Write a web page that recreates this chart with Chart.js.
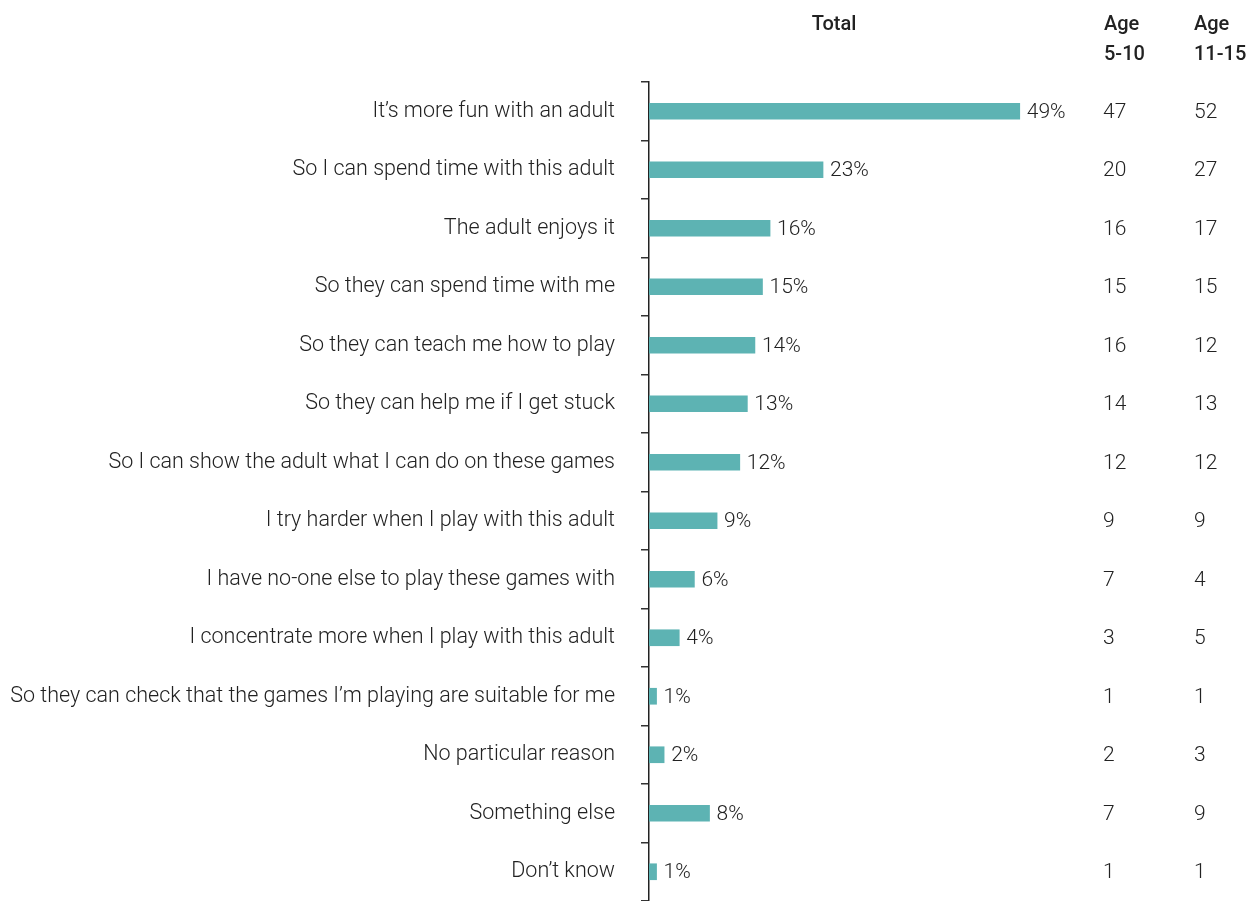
<!DOCTYPE html>
<html><head><meta charset="utf-8">
<script src="https://cdn.jsdelivr.net/npm/chart.js@4/dist/chart.umd.min.js"></script>
<style>html,body{margin:0;padding:0;background:#fff}#wrap{width:1251px;height:901px;position:relative}</style>
</head><body><div id="wrap"><canvas id="c" width="1251" height="901"></canvas></div>
<script>
const categories = ["It\u2019s more fun with an adult","So I can spend time with this adult","The adult enjoys it","So they can spend time with me","So they can teach me how to play","So they can help me if I get stuck","So I can show the adult what I can do on these games","I try harder when I play with this adult","I have no-one else to play these games with","I concentrate more when I play with this adult","So they can check that the games I\u2019m playing are suitable for me","No particular reason","Something else","Don\u2019t know"];
const totals = [49,23,16,15,14,13,12,9,6,4,1,2,8,1];
const age5to10 = [47,20,16,15,16,14,12,9,7,3,1,2,7,1];
const age11to15 = [52,27,17,15,12,13,12,9,4,5,1,3,9,1];
const headers = ["Total", ["Age","5-10"], ["Age","11-15"]];

const FONT = "Roboto";
const TXT = "#222";

const extras = {
  id: "extras",
  afterDatasetsDraw(chart) {
    const ctx = chart.ctx;
    const meta = chart.getDatasetMeta(0);
    const ys = chart.scales.y;
    ctx.save();
    ctx.fillStyle = TXT;
    ctx.font = "300 21px " + FONT;
    ctx.textBaseline = "middle";
    ctx.textAlign = "left";
    meta.data.forEach((bar, i) => {
      ctx.fillText(totals[i] + "%", bar.x + 7, bar.y + 1);
      const y = ys.getPixelForValue(i) + 1;
      ctx.fillText(String(age5to10[i]), 1103, y);
      ctx.fillText(String(age11to15[i]), 1194, y);
    });
    ctx.font = "500 20px " + FONT;
    ctx.textBaseline = "middle";
    ctx.textAlign = "center";
    ctx.fillText(headers[0], 834, 25);
    ctx.textAlign = "left";
    ctx.fillText(headers[1][0], 1104, 25);
    ctx.fillText(headers[1][1], 1104, 55);
    ctx.fillText(headers[2][0], 1194, 25);
    ctx.fillText(headers[2][1], 1194, 55);
    ctx.restore();
  }
};

new Chart(document.getElementById("c"), {
  type: "bar",
  data: {
    labels: categories,
    datasets: [{
      data: totals,
      backgroundColor: "#5db3b3",
      barThickness: 16,
      borderWidth: 0
    }]
  },
  options: {
    indexAxis: "y",
    responsive: false,
    animation: false,
    layout: { padding: { top: 82, right: 148, bottom: 0, left: 0 } },
    plugins: { legend: { display: false }, tooltip: { enabled: false } },
    scales: {
      x: { display: false, min: 0, max: 60 },
      y: {
        offset: true,
        afterFit: (s) => { s.width = 649; s.paddingTop = 0; s.paddingBottom = 0; },
        grid: { offset: true, drawOnChartArea: false, drawTicks: true, tickLength: 8, color: "#333", lineWidth: 1.5 },
        border: { display: true, color: "#222", width: 1.5 },
        ticks: { padding: 26, color: TXT, font: { family: FONT, size: 21.5, weight: "300" } }
      }
    }
  },
  plugins: [extras]
});
</script></body></html>
